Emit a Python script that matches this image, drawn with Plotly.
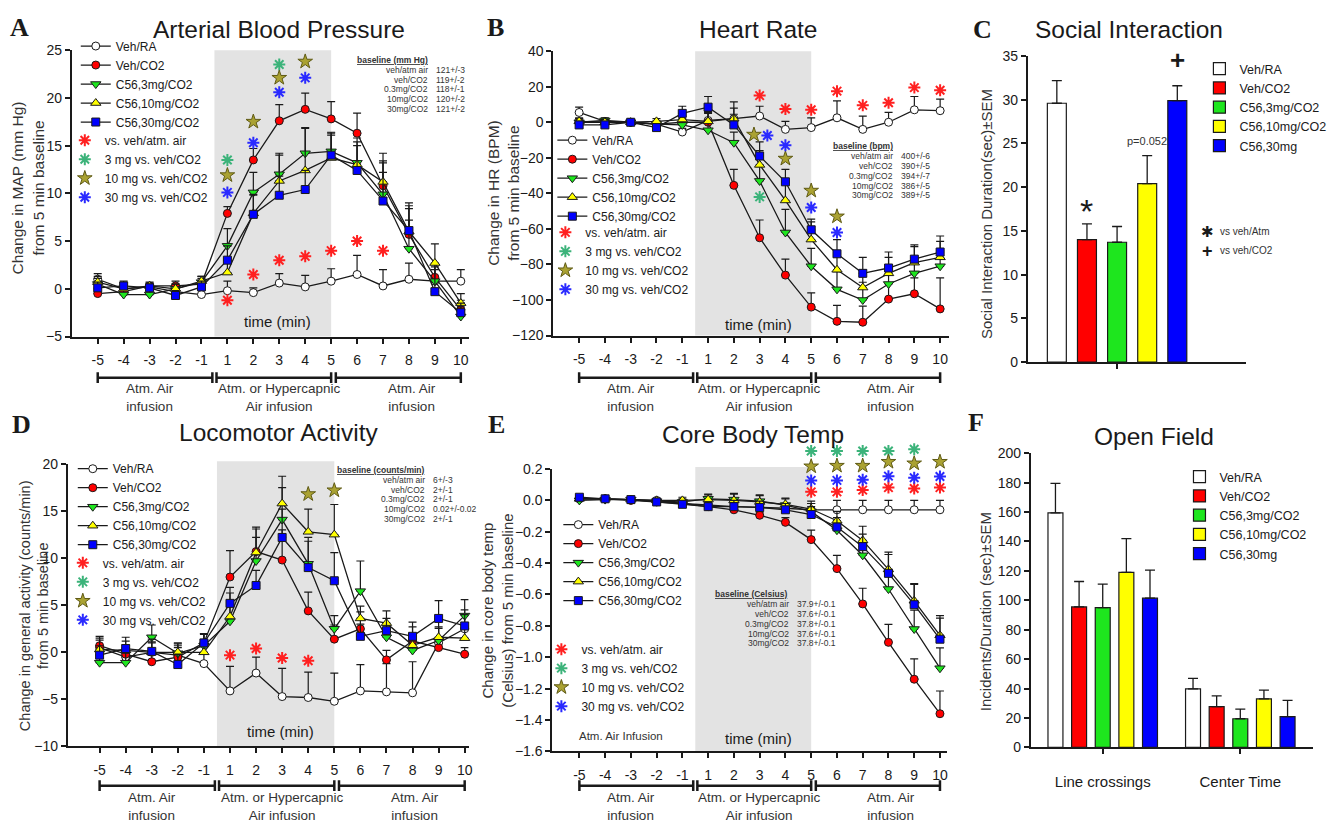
import plotly.graph_objects as go

W, H = 1342, 829
SANS = "Liberation Sans, Arial, Helvetica, sans-serif"
SERIF = "Liberation Serif, Times New Roman, serif"
INK = "#1a1a1a"
GREY_TXT = "#333333"

# ---------------- data ----------------
time_labels = ["-5", "-4", "-3", "-2", "-1", "1", "2", "3", "4", "5", "6", "7", "8", "9", "10"]
series_names = ["Veh/RA", "Veh/CO2", "C56,3mg/CO2", "C56,10mg/CO2", "C56,30mg/CO2"]
bar_names = ["Veh/RA", "Veh/CO2", "C56,3mg/CO2", "C56,10mg/CO2", "C56,30mg"]
star_labels = ["vs. veh/atm. air", "3 mg vs. veh/CO2", "10 mg vs. veh/CO2", "30 mg vs. veh/CO2"]
baseline_groups = ["veh/atm air", "veh/CO2", "0.3mg/CO2", "10mg/CO2", "30mg/CO2"]

# A: Arterial blood pressure (change in MAP, mm Hg)
map_vehra = [1.0, 0.0, 0.2, -0.3, -0.6, -0.2, -0.4, 0.6, 0.2, 0.8, 1.5, 0.3, 1.0, 0.8, 0.8]
map_vehco2 = [-0.5, -0.3, 0.3, 0.3, 0.5, 7.9, 13.5, 17.6, 18.8, 17.8, 16.3, 10.8, 5.7, 1.2, -2.2]
map_3mg = [0.5, -0.6, -0.6, 0.0, 0.7, 4.5, 10.1, 12.0, 14.2, 14.4, 13.2, 9.9, 4.2, 0.8, -2.9]
map_10mg = [0.7, 0.0, 0.3, 0.0, 0.8, 1.7, 7.9, 11.3, 12.4, 13.7, 13.0, 11.2, 6.0, 2.7, -1.5]
map_30mg = [0.1, 0.3, 0.1, -0.7, 0.2, 3.0, 7.8, 9.8, 10.4, 14.0, 12.4, 9.2, 6.1, -0.3, -2.5]
map_err_vehra = [0.6, 0.4, 0.3, 0.5, 0.5, 1.0, 0.5, 1.0, 1.2, 1.3, 2.0, 1.7, 1.7, 1.5, 1.2]
map_err_vehco2 = [0.5, 0.4, 0.3, 0.5, 0.6, 0.7, 1.2, 1.7, 1.7, 1.8, 2.1, 2.4, 3.3, 1.4, 1.0]
map_err_3mg = [0.6, 0.5, 0.4, 0.5, 0.6, 1.8, 2.1, 2.2, 2.6, 2.0, 2.6, 3.5, 3.0, 1.8, 1.0]
map_err_10mg = [0.6, 0.5, 0.4, 0.5, 0.5, 1.5, 2.0, 2.7, 4.5, 2.6, 2.0, 3.0, 2.4, 2.0, 1.0]
map_err_30mg = [0.6, 0.5, 0.4, 0.5, 0.6, 1.5, 2.0, 2.0, 2.0, 2.1, 3.0, 3.0, 2.6, 2.3, 1.0]
map_baseline = ["121+/-3", "119+/-2", "118+/-1", "120+/-2", "121+/-2"]
map_star_red_t = ["1", "2", "3", "4", "5", "6", "7"]
map_star_red_y = [-1.2, 1.5, 3.0, 3.4, 4.0, 5.0, 4.0]
map_star_green_t = ["1", "3"]
map_star_green_y = [13.5, 23.5]
map_star_olive_t = ["1", "2", "3", "4"]
map_star_olive_y = [11.9, 17.5, 22.1, 23.8]
map_star_blue_t = ["1", "2", "3", "4"]
map_star_blue_y = [10.1, 15.3, 20.6, 22.1]

# B: Heart rate (change in HR, BPM)
hr_vehra = [5.5, 0.5, 0.0, -1.0, -5.5, 1.0, 2.0, 3.5, -4.0, -3.0, 2.5, -4.0, 0.0, 7.0, 6.5]
hr_vehco2 = [0.0, 0.0, 0.0, -1.0, 0.0, 0.0, -35.5, -65.0, -86.0, -104.0, -112.0, -112.5, -99.5, -96.5, -105.0]
hr_3mg = [0.0, 1.0, 0.0, -1.0, -1.5, -4.5, -11.5, -33.0, -62.0, -81.0, -94.0, -100.0, -91.0, -85.0, -81.0]
hr_10mg = [0.5, 0.0, 0.0, 0.5, 1.5, 0.5, 2.0, -24.0, -44.0, -66.0, -83.0, -93.0, -85.0, -79.0, -76.0]
hr_30mg = [-1.5, -1.5, 0.0, -3.0, 5.0, 8.5, -1.5, -19.0, -33.5, -60.5, -74.0, -85.0, -82.0, -77.0, -73.0]
hr_err_vehra = [3, 1.5, 1, 1.5, 2, 5, 9.5, 5.5, 4.5, 5.5, 9.5, 7.5, 5.5, 7.5, 6.5]
hr_err_vehco2 = [2, 1.5, 1, 1.5, 2, 5, 9, 10, 9, 8, 9, 9, 9, 9, 17.5]
hr_err_3mg = [2, 1.5, 1, 1.5, 2, 5, 6, 8, 13, 10, 10, 10, 9, 9, 9]
hr_err_10mg = [2, 1.5, 1, 1.5, 2, 5, 6, 8, 10, 10, 10, 10, 9, 9, 9]
hr_err_30mg = [2, 1.5, 1, 1.5, 4, 6, 6, 8, 7, 6, 8, 9, 9, 8, 9]
hr_baseline = ["400+/-6", "390+/-5", "394+/-7", "386+/-5", "389+/-5"]
hr_star_red_t = ["3", "4", "5", "6", "7", "8", "9", "10"]
hr_star_red_y = [15, 7.5, 7, 17.5, 9.5, 11, 19.5, 18]
hr_star_green_t = ["3"]
hr_star_green_y = [-42]
hr_star_olive_t = ["3", "4", "5", "6"]
hr_star_olive_y = [-7, -20.5, -38.5, -53]
hr_star_blue_t = ["3", "4", "5", "6"]
hr_star_blue_y = [-7.5, -13, -48, -62]

# C: Social interaction (sec)
social_mean = [29.6, 14.0, 13.7, 20.4, 29.9]
social_sem = [2.6, 1.8, 1.8, 3.2, 1.7]

# D: Locomotor activity (counts/min)
loco_vehra = [0.5, -0.5, 0.0, -0.3, -1.2, -4.1, -2.2, -4.7, -4.8, -5.2, -4.1, -4.2, -4.3, 1.0, 2.5]
loco_vehco2 = [0.7, -0.2, -1.0, -0.5, 1.0, 8.0, 10.7, 9.8, 4.4, 1.4, 2.5, -0.8, 1.2, 0.5, -0.2]
loco_3mg = [-1.1, -1.1, 1.6, -0.1, 0.7, 3.3, 9.7, 14.1, 9.4, 2.5, 6.5, 1.6, 0.2, 1.25, 3.9]
loco_10mg = [0.3, 0.2, 0.0, 0.0, 0.0, 3.8, 10.6, 15.8, 12.8, 12.5, 3.6, 3.1, 0.75, 1.6, 1.5]
loco_30mg = [-0.3, 0.4, 0.1, -1.3, 1.0, 5.2, 7.1, 12.2, 9.0, 7.6, 1.7, 2.3, 1.7, 3.6, 2.8]
loco_err_vehra = [1.0, 1.0, 1.0, 1.0, 1.0, 2.6, 1.7, 3.0, 2.7, 3.0, 2.8, 3.0, 3.3, 2.5, 2.0]
loco_err_vehco2 = [1.0, 1.0, 1.0, 1.0, 1.0, 2.8, 2.6, 3.2, 2.0, 1.5, 1.8, 1.0, 1.5, 1.0, 0.7]
loco_err_3mg = [1.2, 1.0, 1.3, 1.0, 1.2, 2.0, 2.5, 3.4, 2.8, 1.4, 3.2, 1.3, 1.0, 1.3, 1.7]
loco_err_10mg = [1.0, 1.0, 1.4, 1.0, 1.0, 2.5, 2.5, 2.9, 2.4, 3.2, 1.3, 1.3, 1.2, 1.1, 1.1]
loco_err_30mg = [1.0, 1.2, 1.0, 1.1, 1.0, 1.7, 1.6, 3.0, 2.8, 3.0, 1.3, 1.3, 1.5, 1.9, 1.2]
loco_baseline = ["6+/-3", "2+/-1", "2+/-1", "0.02+/-0.02", "2+/-1"]
loco_star_red_t = ["1", "2", "3", "4"]
loco_star_red_y = [-0.3, 0.4, -0.6, -0.9]
loco_star_olive_t = ["4", "5"]
loco_star_olive_y = [16.8, 17.2]

# E: Core body temperature (Celsius)
temp_vehra = [0.01, 0.01, 0.005, 0.0, -0.02, -0.03, -0.04, -0.045, -0.05, -0.06, -0.06, -0.06, -0.06, -0.06, -0.06]
temp_vehco2 = [0.01, 0.01, 0.0, -0.01, -0.02, -0.04, -0.06, -0.095, -0.14, -0.25, -0.435, -0.66, -0.905, -1.14, -1.36]
temp_3mg = [0.0, 0.005, 0.005, -0.005, -0.01, 0.01, 0.005, -0.005, -0.03, -0.07, -0.19, -0.35, -0.565, -0.82, -1.07]
temp_10mg = [0.01, 0.01, 0.005, 0.0, 0.0, 0.005, 0.0, -0.01, -0.025, -0.055, -0.13, -0.255, -0.44, -0.64, -0.86]
temp_30mg = [0.02, 0.01, 0.005, -0.01, -0.025, -0.04, -0.04, -0.045, -0.06, -0.09, -0.17, -0.295, -0.465, -0.665, -0.885]
temp_err_vehra = [0.01, 0.01, 0.01, 0.01, 0.01, 0.02, 0.02, 0.02, 0.03, 0.04, 0.06, 0.06, 0.06, 0.06, 0.06]
temp_err_vehco2 = [0.01, 0.01, 0.01, 0.01, 0.01, 0.02, 0.02, 0.02, 0.03, 0.06, 0.085, 0.10, 0.115, 0.13, 0.145]
temp_err_3mg = [0.01, 0.01, 0.01, 0.01, 0.02, 0.03, 0.04, 0.04, 0.04, 0.05, 0.06, 0.08, 0.10, 0.12, 0.13]
temp_err_10mg = [0.01, 0.01, 0.01, 0.01, 0.02, 0.03, 0.04, 0.04, 0.04, 0.05, 0.06, 0.09, 0.11, 0.11, 0.11]
temp_err_30mg = [0.01, 0.01, 0.01, 0.01, 0.02, 0.03, 0.04, 0.04, 0.04, 0.05, 0.06, 0.08, 0.12, 0.13, 0.15]
temp_baseline = ["37.9+/-0.1", "37.6+/-0.1", "37.8+/-0.1", "37.6+/-0.1", "37.8+/-0.1"]
temp_star_t = ["5", "6", "7", "8", "9", "10"]
temp_star_green_t = ["5", "6", "7", "8", "9"]
temp_star_green_y = [0.314, 0.314, 0.314, 0.314, 0.325]
temp_star_olive_y = [0.216, 0.22, 0.22, 0.245, 0.235, 0.245]
temp_star_blue_y = [0.127, 0.127, 0.131, 0.154, 0.144, 0.152]
temp_star_red_y = [0.054, 0.054, 0.065, 0.081, 0.075, 0.081]

# F: Open field
of_categories = ["Line crossings", "Center Time"]
of_vehra = [159.5, 39.8]
of_vehco2 = [95.5, 27.8]
of_3mg = [95.0, 19.5]
of_10mg = [119.0, 33.0]
of_30mg = [101.5, 21.0]
of_err_vehra = [20.0, 7.2]
of_err_vehco2 = [17.3, 7.2]
of_err_3mg = [16.0, 6.5]
of_err_10mg = [23.0, 6.0]
of_err_30mg = [19.1, 11.0]

# ---------------- styles ----------------
fills = ["#ffffff", "#ff0000", "#1ee61e", "#ffff00", "#0000ff"]
symbols = ["circle", "circle", "triangle-down", "triangle-up", "square"]
msizes = [8, 8, 9, 9, 8]
star_colors = ["#ff2020", "#3cb37a", "#aaa232", "#2a2aff"]


def pxx(v):
    return v / W


def pxy(v):
    return 1 - v / H


fig = go.Figure()
annotations = []
shapes = []
layout = {}

axis_common = dict(showgrid=False, zeroline=False, showline=True, linecolor=INK, linewidth=2,
                   ticks="outside", ticklen=5, tickwidth=1.5, tickcolor=INK,
                   tickfont=dict(family=SANS, size=14, color=INK))


def legend_cfg(left, top, size=12):
    return dict(x=pxx(left), y=pxy(top), xanchor="left", yanchor="top", bgcolor="rgba(0,0,0,0)",
                borderwidth=0, font=dict(family=SANS, size=size, color=INK), itemwidth=30,
                tracegroupgap=0, traceorder="normal")


def add_text(text, x, y, size, xanchor="center", yanchor="middle", color=INK, family=SANS, angle=0,
             xref="paper", yref="paper"):
    annotations.append(dict(text=text, x=x, y=y, xref=xref, yref=yref, showarrow=False,
                            xanchor=xanchor, yanchor=yanchor, textangle=angle,
                            font=dict(family=family, size=size, color=color)))


def line_panel(s, box, xr, yr, dtick, values, errors, stars, leg_series, leg_stars,
               bracket_y, text_y, time_y, baseline_vals, baseline_title, baseline_pos,
               tickformat=None, shade_top=1.0, star_axis=None):
    xa, ya = "x" + s, "y" + s
    xkey, ykey = "xaxis" + s, "yaxis" + s
    xi = list(range(len(time_labels)))
    layout[xkey] = dict(axis_common, domain=[pxx(box[0]), pxx(box[1])], anchor=ya, range=xr,
                        tickmode="array", tickvals=xi, ticktext=time_labels, ticklabelstandoff=5)
    ya_cfg = dict(axis_common, domain=[pxy(box[3]), pxy(box[2])], anchor=xa, range=yr, dtick=dtick)
    if tickformat:
        ya_cfg["tickformat"] = tickformat
    layout[ykey] = ya_cfg
    sya = ya
    if star_axis:
        sname, stop, srange = star_axis
        layout["yaxis" + sname] = dict(domain=[pxy(box[3]), pxy(stop)], anchor=xa, range=srange,
                                       visible=False, showgrid=False, zeroline=False)
        sya = "y" + sname
    lg_s = "legend" if leg_series == 1 else "legend%d" % leg_series
    lg_t = "legend%d" % leg_stars
    for k in range(5):
        fig.add_trace(go.Scatter(
            x=xi, y=values[k], xaxis=xa, yaxis=ya, name=series_names[k], legend=lg_s,
            mode="lines+markers", line=dict(color=INK, width=1.3),
            marker=dict(symbol=symbols[k], size=msizes[k], color=fills[k], line=dict(color=INK, width=1)),
            error_y=dict(type="data", symmetric=False, array=errors[k], arrayminus=[0] * len(errors[k]),
                         color=INK, thickness=1.2, width=4),
            cliponaxis=False))
    for k in range(4):
        t, yv, dx = stars[k]
        if t:
            x = [time_labels.index(tt) + (dx[i] if dx else 0) for i, tt in enumerate(t)]
            y = yv
        else:
            x, y = [None], [None]
        if k == 2:
            mk = dict(symbol="star", size=11, color=star_colors[k], line=dict(color="#5f5a14", width=1))
        else:
            mk = dict(symbol="asterisk-open", size=10, color=star_colors[k],
                      line=dict(color=star_colors[k], width=2))
        fig.add_trace(go.Scatter(x=x, y=y, xaxis=xa, yaxis=sya, name=star_labels[k], legend=lg_t,
                                 mode="markers", marker=mk, cliponaxis=False))
    # shaded hypercapnic window
    shapes.append(dict(type="rect", xref=xa, yref=ya + " domain", x0=4.5, x1=9.0, y0=0, y1=shade_top,
                       fillcolor="#e3e3e3", line=dict(width=0), layer="below"))
    # brackets under the axis
    by = pxy(bracket_y)
    segs = [(0, 4.42), (4.58, 9.0), (9.18, 14)]
    for a, b in segs:
        shapes.append(dict(type="line", xref=xa, yref="paper", x0=a, x1=b, y0=by, y1=by,
                           line=dict(color=INK, width=2.5)))
        for v in (a, b):
            shapes.append(dict(type="line", xref=xa, yref="paper", x0=v, x1=v,
                               y0=pxy(bracket_y - 5.5), y1=pxy(bracket_y + 5.5),
                               line=dict(color=INK, width=2.5)))
    for txt, cx in (("Atm. Air<br>infusion", 2.0), ("Atm. or Hypercapnic<br>Air infusion", 7.0),
                    ("Atm. Air<br>infusion", 12.1)):
        add_text(txt, cx, pxy(text_y), 13.5, color=GREY_TXT, xref=xa)
    add_text("time (min)", 6.95, pxy(time_y), 15, xref=xa)
    # baseline table
    tx, ty, lx = baseline_pos
    add_text("<u><b>" + baseline_title + "</b></u>", pxx(tx), pxy(ty), 8.5, color=GREY_TXT)
    for i in range(5):
        add_text(baseline_groups[i], pxx(lx), pxy(ty + 10 * (i + 1)), 8.5, xanchor="right", color=GREY_TXT)
        add_text(baseline_vals[i], pxx(lx + 4), pxy(ty + 10 * (i + 1)), 8.5, xanchor="left", color=GREY_TXT)


# ---- A ----
line_panel("", (72, 470, 43, 335), [-1.0, 14.3], [-5, 25], 5,
           [map_vehra, map_vehco2, map_3mg, map_10mg, map_30mg],
           [map_err_vehra, map_err_vehco2, map_err_3mg, map_err_10mg, map_err_30mg],
           [(map_star_red_t, map_star_red_y, None), (map_star_green_t, map_star_green_y, None),
            (map_star_olive_t, map_star_olive_y, None), (map_star_blue_t, map_star_blue_y, None)],
           1, 2, 377, 397, 320, map_baseline, "baseline (mm Hg)", (394, 53, 431))
# ---- B ----
line_panel("2", (555, 952, 44, 334), [-1.0, 14.35], [-120, 40], 20,
           [hr_vehra, hr_vehco2, hr_3mg, hr_10mg, hr_30mg],
           [hr_err_vehra, hr_err_vehco2, hr_err_3mg, hr_err_10mg, hr_err_30mg],
           [(hr_star_red_t, hr_star_red_y, None), (hr_star_green_t, hr_star_green_y, None),
            (hr_star_olive_t, hr_star_olive_y, [-0.22, 0, 0, 0]),
            (hr_star_blue_t, hr_star_blue_y, [0.3, 0, 0, 0])],
           3, 4, 377, 397, 323, hr_baseline, "baseline (bpm)", (866, 141, 898))
# ---- D ----
line_panel("4", (68, 470, 465, 753), [-1.22, 14.15], [-10, 20], 5,
           [loco_vehra, loco_vehco2, loco_3mg, loco_10mg, loco_30mg],
           [loco_err_vehra, loco_err_vehco2, loco_err_3mg, loco_err_10mg, loco_err_30mg],
           [(loco_star_red_t, loco_star_red_y, None), ([], [], None),
            (loco_star_olive_t, loco_star_olive_y, None), ([], [], None)],
           5, 6, 793, 814, 738, loco_baseline, "baseline (counts/min)", (382, 471, 428),
           shade_top=1.01)
# ---- E ----  (stars sit above the axis top: same scale on a taller hidden axis)
e_px_per_unit = (758 - 470) / 1.8
line_panel("5", (554, 950, 470, 758), [-1.05, 14.28], [-1.6, 0.2005], 0.2,
           [temp_vehra, temp_vehco2, temp_3mg, temp_10mg, temp_30mg],
           [temp_err_vehra, temp_err_vehco2, temp_err_3mg, temp_err_10mg, temp_err_30mg],
           [(temp_star_t, temp_star_red_y, None), (temp_star_green_t, temp_star_green_y, None),
            (temp_star_t, temp_star_olive_y, None), (temp_star_t, temp_star_blue_y, None)],
           7, 8, 793, 814, 745, temp_baseline, "baseline (Celsius)", (753, 598, 793),
           tickformat=".1f", shade_top=1.007,
           star_axis=("7", 440, [-1.6, 0.2 + (470 - 440) / e_px_per_unit]))
add_text("Atm. Air Infusion", pxx(623), pxy(742), 11.5, color=GREY_TXT)

# ---- C: bars ----
layout["xaxis3"] = dict(axis_common, domain=[pxx(1031), pxx(1250)], anchor="y3", range=[-0.96, 6.29],
                        tickmode="array", tickvals=[2], ticktext=[""])
layout["yaxis3"] = dict(axis_common, domain=[pxy(361), pxy(49)], anchor="x3", range=[0, 35], dtick=5)
for k in range(5):
    fig.add_trace(go.Bar(x=[k], y=[social_mean[k]], xaxis="x3", yaxis="y3", name=bar_names[k],
                         legend="legend9", width=0.63, offset=-0.315,
                         marker=dict(color=fills[k], line=dict(color=INK, width=1.2)),
                         error_y=dict(type="data", symmetric=False, array=[social_sem[k]], arrayminus=[0],
                                      color=INK, thickness=1.3, width=5)))
add_text("*", 1, 17.3, 34, xref="x3", yref="y3")
add_text("<b>+</b>", 4, 34.5, 26, xref="x3", yref="y3")
add_text("p=0.052", 3, 25.3, 11, xref="x3", yref="y3", color=GREY_TXT)
add_text("✱", pxx(1211), pxy(228), 15, family="DejaVu Sans")
add_text("vs veh/Atm", pxx(1222), pxy(228), 10, xanchor="left", color=GREY_TXT)
add_text("<b>+</b>", pxx(1211), pxy(248), 18)
add_text("vs veh/CO2", pxx(1222), pxy(247), 10, xanchor="left", color=GREY_TXT)

# ---- F: bars ----
layout["xaxis6"] = dict(axis_common, domain=[pxx(1034), pxx(1317)], anchor="y6", type="category",
                        range=[-0.522, 1.529], ticklabelstandoff=15,
                        tickfont=dict(family=SANS, size=15, color=INK))
layout["yaxis6"] = dict(axis_common, domain=[pxy(754), pxy(454)], anchor="x6", range=[0, 200], dtick=20)
of_vals = [of_vehra, of_vehco2, of_3mg, of_10mg, of_30mg]
of_errs = [of_err_vehra, of_err_vehco2, of_err_3mg, of_err_10mg, of_err_30mg]
for k in range(5):
    fig.add_trace(go.Bar(x=of_categories, y=of_vals[k], xaxis="x6", yaxis="y6", name=bar_names[k],
                         legend="legend10",
                         marker=dict(color=fills[k], line=dict(color=INK, width=1.2)),
                         error_y=dict(type="data", symmetric=False, array=of_errs[k], arrayminus=[0, 0],
                                      color=INK, thickness=1.3, width=5)))

# ---- titles, letters, y titles ----
for letter, lx, ly in (("A", 20, 20), ("B", 497, 20), ("C", 985, 22), ("D", 22, 425), ("E", 498, 425),
                       ("F", 979, 423)):
    add_text("<b>" + letter + "</b>", pxx(lx), pxy(ly), 26, family=SERIF)
for title, tx, ty in (("Arterial Blood Pressure", 280, 22), ("Heart Rate", 760, 22),
                      ("Social Interaction", 1132, 22), ("Locomotor Activity", 280, 433),
                      ("Core Body Temp", 755, 435), ("Open Field", 1157, 437)):
    add_text(title, pxx(tx), pxy(ty), 24.5)
for title, tx, ty, fs in (("Change in MAP (mm Hg)<br>from 5 min baseline", 28, 183, 15.5),
                          ("Change in HR (BPM)<br>from 5 min baseline", 505, 188, 15.5),
                          ("Social Interaction Duration(sec)±SEM", 990, 210, 15),
                          ("Change in general activity (counts/min)<br>from 5 min baseline", 34, 609, 14.5),
                          ("Change in core body temp<br>(Celsius) from 5 min baseline", 499, 615, 15),
                          ("Incidents/Duration (sec)±SEM", 988, 616, 15)):
    add_text(title, pxx(tx), pxy(ty), fs, angle=-90, color=GREY_TXT)

# ---- legends ----
layout["legend"] = legend_cfg(76, 24)
layout["legend2"] = legend_cfg(65, 120)
layout["legend3"] = legend_cfg(554, 120)
layout["legend4"] = legend_cfg(547, 214)
layout["legend5"] = legend_cfg(73, 455)
layout["legend6"] = legend_cfg(63, 551)
layout["legend7"] = legend_cfg(560, 512)
layout["legend8"] = legend_cfg(543, 639)
layout["legend9"] = legend_cfg(1203, 47, 12.5)
layout["legend10"] = legend_cfg(1183, 463, 12.5)

fig.update_layout(
    width=W, height=H, margin=dict(l=0, r=0, t=0, b=0),
    paper_bgcolor="white", plot_bgcolor="rgba(0,0,0,0)",
    font=dict(family=SANS, color=INK),
    barmode="group", bargap=0.141, bargroupgap=0.367,
    showlegend=True, annotations=annotations, shapes=shapes, **layout)

fig.write_html("out.html")
